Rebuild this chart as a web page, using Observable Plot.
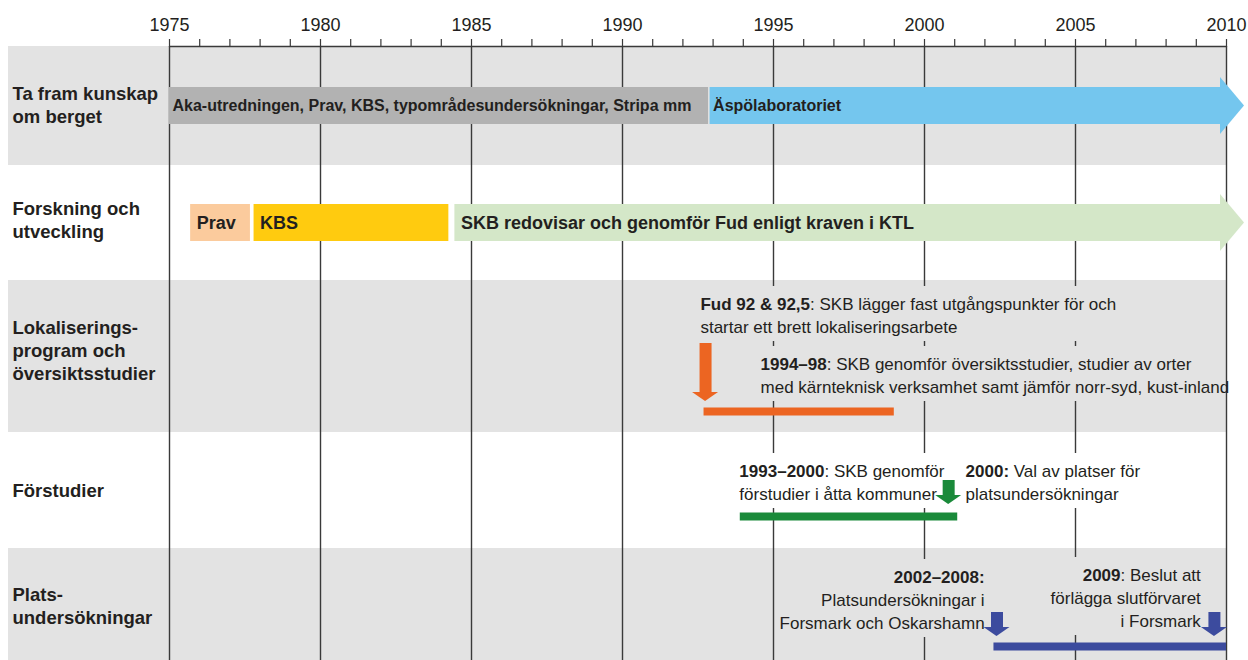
<!DOCTYPE html>
<html><head><meta charset="utf-8">
<script src="https://cdn.jsdelivr.net/npm/d3@7"></script>
<script src="https://cdn.jsdelivr.net/npm/@observablehq/plot@0.6"></script>
<style>html,body{margin:0;padding:0;background:#fff}#chart svg{display:block}</style>
</head><body><div id="chart"></div>
<script>
// ---------------- DATA ----------------
const tickYears = [1975, 1980, 1985, 1990, 1995, 2000, 2005, 2010];
const minorYears = d3.range(1975, 2011);

const rowNames = [
  "Ta fram kunskap\nom berget",
  "Forskning och\nutveckling",
  "Lokaliserings-\nprogram och\növersiktsstudier",
  "Förstudier",
  "Plats-\nundersökningar"
];

// phase bars (rows 0 and 1)
const barNames = [
  "Aka-utredningen, Prav, KBS, typområdesundersökningar, Stripa mm",
  "Äspölaboratoriet",
  "Prav",
  "KBS",
  "SKB redovisar och genomför Fud enligt kraven i KTL"
];
const barRow   = [0, 0, 1, 1, 1];
const barStart = [1975, 1992.9, 1975.7, 1977.8, 1984.45];
const barEnd   = [1992.85, 2010, 1977.68, 1984.25, 2010];
const barArrow = [false, true, false, false, true];

// period lines (rows 2-4)
const periodRow   = [2, 3, 4];
const periodStart = [1992.7, 1993.9, 2002.3];
const periodEnd   = [1999.0, 2001.1, 2010];

// event arrows (rows 2-4)
const eventRow  = [2, 3, 4, 4];
const eventYear = [1992.75, 2000.8, 2002.4, 2009.6];

// annotations
const noteRow   = [2, 2, 3, 3, 4, 4];
const noteYear  = [1992.58, 1994.57, 1993.87, 2001.36, 2001.99, 2009.15];
const noteAlign = ["start", "start", "start", "start", "end", "end"];
const noteBold  = ["Fud 92 & 92,5", "1994–98", "1993–2000", "2000:", "2002–2008:", "2009"];
const noteText  = [
  "Fud 92 & 92,5: SKB lägger fast utgångspunkter för och\nstartar ett brett lokaliseringsarbete",
  "1994–98: SKB genomför översiktsstudier, studier av orter\nmed kärnteknisk verksamhet samt jämför norr-syd, kust-inland",
  "1993–2000: SKB genomför\nförstudier i åtta kommuner",
  "2000: Val av platser för\nplatsundersökningar",
  "2002–2008:\nPlatsundersökningar i\nForsmark och Oskarshamn",
  "2009: Beslut att\nförlägga slutförvaret\ni Forsmark"
];

// ---------------- LAYOUT / STYLE ----------------
const L = {
  bandTop:    [0, 119, 234, 387, 502],
  bandBottom: [119, 234, 386, 502, 614],
  shaded:     [true, false, true, false, true],
  rowFirstY:  [47.1, 162.4, 281.4, 444.5, 548.1],
  rowGap: 23,
  barHeight: 37, headOverhang: 10, headLenPx: 24, headBackPx: 6,
  periodY: [365, 470, 600],
  eventTop: [297, 434, 566, 566], eventTip: [355, 458, 590, 590],
  eventHeadLen: 9, eventHalfPx: 13, eventShaftPx: 12,
  noteFirstY: [258, 318, 425, 425, 531, 529],
  noteGap: 23, noteFont: 17,
  knockTop: 18, knockBottom: 14, knockSidePx: 4
};
const barColor = ["#b2b2b2", "#74c6ee", "#fbcb9d", "#ffcb0f", "#d4e7c8"];
const rowColor = {2: "#ec6522", 3: "#1a8a3a", 4: "#3c4b9e"};
const bandFill = "#e3e3e3";
const ink = "#231f20";
const FONT = "'Liberation Sans', Arial, sans-serif";
const pxPerYear = (1226 - 169) / 35;
const yrs = px => px / pxPerYear;

// ---------------- DERIVED TABLES ----------------
const bands = rowNames.map((name, i) => ({
  name, y1: L.bandTop[i], y2: L.bandBottom[i], shaded: L.shaded[i],
  c: (L.bandTop[i] + L.bandBottom[i]) / 2
}));
const rowLines = bands.flatMap((b, i) =>
  b.name.split("\n").map((t, k) => ({t, y: L.rowFirstY[i] + k * L.rowGap})));
const bars = barNames.map((name, i) => {
  const c = bands[barRow[i]].c;
  return {
    name, row: barRow[i], arrow: barArrow[i], color: barColor[i],
    x1: barStart[i], x2: barArrow[i] ? barEnd[i] - yrs(L.headBackPx) : barEnd[i],
    y1: c - L.barHeight / 2, y2: c + L.barHeight / 2, yc: c
  };
});
const heads = bars.filter(d => d.arrow).flatMap((d, i) => [
  {id: i, color: d.color, x: d.x2, y1: d.y1 - L.headOverhang, y2: d.y2 + L.headOverhang},
  {id: i, color: d.color, x: d.x2 + yrs(L.headLenPx), y1: d.yc, y2: d.yc}
]);
const periods = periodRow.map((r, i) => ({x1: periodStart[i], x2: periodEnd[i], y: L.periodY[i], color: rowColor[r]}));
const events = eventRow.map((r, i) => ({
  x: eventYear[i], top: L.eventTop[i], tip: L.eventTip[i],
  hs: L.eventTip[i] - L.eventHeadLen, color: rowColor[r]
}));
const vheads = events.flatMap((d, i) => [
  {id: i, color: d.color, y: d.hs, x1: d.x - yrs(L.eventHalfPx), x2: d.x + yrs(L.eventHalfPx)},
  {id: i, color: d.color, y: d.tip, x1: d.x, x2: d.x}
]);
const noteLines = noteText.flatMap((txt, i) => txt.split("\n").map((t, k) => ({
  t, x: noteYear[i], y: L.noteFirstY[i] + k * L.noteGap, anchor: noteAlign[i]
})));

// knockout boxes behind annotation blocks (hide gridlines under text)
const ctx = document.createElement("canvas").getContext("2d");
function lineWidth(s, bold) {
  let w = 0, rest = s;
  if (bold && s.startsWith(bold)) {
    ctx.font = `bold ${L.noteFont}px ${FONT}`;
    w += ctx.measureText(bold).width;
    rest = s.slice(bold.length);
  }
  ctx.font = `${L.noteFont}px ${FONT}`;
  return w + ctx.measureText(rest).width;
}
const knockouts = noteText.map((txt, i) => {
  const ls = txt.split("\n");
  const w = d3.max(ls, s => lineWidth(s, noteBold[i]));
  const side = yrs(L.knockSidePx);
  let x1, x2;
  if (noteAlign[i] === "start") { x1 = noteYear[i] - side; x2 = noteYear[i] + yrs(w) + side; }
  else { x1 = noteYear[i] - yrs(w) - side; x2 = noteYear[i] + side; }
  x2 = Math.min(x2, 2010 - yrs(2));
  return {
    x1, x2,
    y1: L.noteFirstY[i] - L.knockTop,
    y2: L.noteFirstY[i] + (ls.length - 1) * L.noteGap + L.knockBottom,
    fill: L.shaded[noteRow[i]] ? bandFill : "#ffffff"
  };
});

// ---------------- PLOT ----------------
const textCommon = {fill: ink, lineAnchor: "middle"};
const chart = Plot.plot({
  width: 1248, height: 660,
  marginLeft: 8, marginRight: 22, marginTop: 46, marginBottom: 0,
  style: {fontFamily: FONT, background: "#fff", overflow: "visible"},
  x: {domain: [1975, 2010], range: [169, 1226], label: null},
  y: {domain: [0, 614], range: [46, 660], axis: null, label: null},
  color: {type: "identity"},
  marks: [
    Plot.rect(bands.filter(d => d.shaded), {y1: "y1", y2: "y2", fill: bandFill}),
    Plot.ruleX(tickYears, {y1: 0, y2: 614, stroke: "#3a3a3a", strokeWidth: 1.4}),
    Plot.rect(knockouts, {x1: "x1", x2: "x2", y1: "y1", y2: "y2", fill: "fill"}),
    Plot.ruleY([0], {x1: 1975, x2: 2010, stroke: "#3a3a3a", strokeWidth: 1.4}),
    Plot.axisX({anchor: "top", ticks: minorYears, tickSize: 8, tickFormat: () => "", stroke: "#3a3a3a", strokeWidth: 1.2, label: null}),
    Plot.axisX({anchor: "top", ticks: tickYears, tickSize: 0, tickPadding: 16, tickFormat: d => String(d), fontSize: 18, fill: ink, label: null}),
    // bars + arrowheads
    Plot.rect(bars, {x1: "x1", x2: "x2", y1: "y1", y2: "y2", fill: "color"}),
    Plot.areaY(heads, {x: "x", y1: "y1", y2: "y2", z: "id", fill: "color", curve: "linear"}),
    Plot.text(bars.filter(d => d.row === 0), {x: "x1", y: "yc", text: "name", textAnchor: "start", dx: 3, fontSize: 16, fontWeight: "bold", ...textCommon}),
    Plot.text(bars.filter(d => d.row === 1), {x: "x1", y: "yc", text: "name", textAnchor: "start", dx: 6, fontSize: 18, fontWeight: "bold", ...textCommon}),
    // periods and events
    Plot.ruleY(periods, {y: "y", x1: "x1", x2: "x2", stroke: "color", strokeWidth: 8}),
    Plot.ruleX(events, {x: "x", y1: "top", y2: d => d.hs + 0.5, stroke: "color", strokeWidth: L.eventShaftPx}),
    Plot.areaX(vheads, {y: "y", x1: "x1", x2: "x2", z: "id", fill: "color", curve: "linear"}),
    // annotations
    Plot.text(noteLines.filter(d => d.anchor === "start"), {x: "x", y: "y", text: "t", textAnchor: "start", fontSize: L.noteFont, ...textCommon}),
    Plot.text(noteLines.filter(d => d.anchor === "end"), {x: "x", y: "y", text: "t", textAnchor: "end", fontSize: L.noteFont, ...textCommon}),
    // row labels
    Plot.text(rowLines, {frameAnchor: "left", y: "y", text: "t", textAnchor: "start", dx: 4, fontSize: 18.5, fontWeight: "bold", ...textCommon})
  ]
});

// bold prefixes inside annotation lines
const NS = "http://www.w3.org/2000/svg";
chart.querySelectorAll("text").forEach(el => {
  const targets = el.querySelector("tspan") ? [...el.querySelectorAll("tspan")] : [el];
  for (const t of targets) {
    const s = t.textContent;
    const p = noteBold.find(b => s.startsWith(b));
    if (p) {
      t.textContent = "";
      const b = document.createElementNS(NS, "tspan");
      b.setAttribute("font-weight", "bold");
      b.textContent = p;
      t.appendChild(b);
      t.appendChild(document.createTextNode(s.slice(p.length)));
    }
  }
});
document.getElementById("chart").appendChild(chart);
</script>
</body></html>
